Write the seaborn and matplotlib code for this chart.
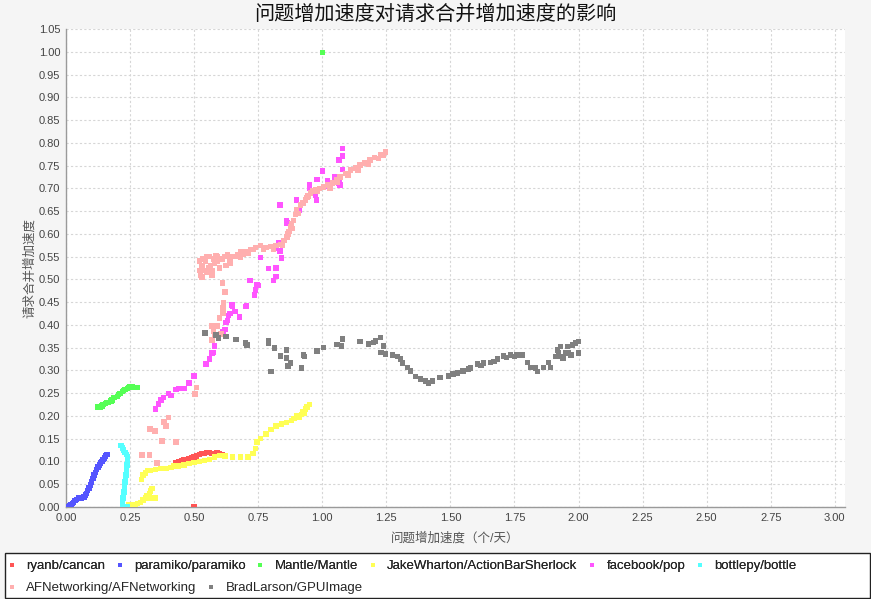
import pandas as pd
import numpy as np
import matplotlib
matplotlib.use('Agg')
import matplotlib.pyplot as plt
from matplotlib.lines import Line2D
from matplotlib.patches import Rectangle
import seaborn as sns

# series
repos = ['ryanb/cancan', 'paramiko/paramiko', 'Mantle/Mantle', 'JakeWharton/ActionBarSherlock',
         'facebook/pop', 'bottlepy/bottle', 'AFNetworking/AFNetworking', 'BradLarson/GPUImage']
colors = ['#ff5555', '#5555ff', '#55ff55', '#ffff55', '#ff55ff', '#55ffff', '#ffafaf', '#808080']

cancan_x = [0.43, 0.44, 0.45, 0.46, 0.47, 0.48, 0.49, 0.50, 0.51, 0.52, 0.53, 0.54, 0.55, 0.56,
            0.57, 0.58, 0.59, 0.60, 0.61, 0.50]
cancan_y = [0.098, 0.100, 0.102, 0.105, 0.105, 0.107, 0.108, 0.110, 0.112, 0.115, 0.117, 0.118,
            0.120, 0.120, 0.118, 0.117, 0.120, 0.118, 0.116, 0.0]

paramiko_x = [0.01, 0.015, 0.02, 0.025, 0.03, 0.035, 0.04, 0.05, 0.06, 0.07, 0.075, 0.08, 0.085,
              0.09, 0.095, 0.10, 0.105, 0.11, 0.115, 0.12, 0.125, 0.13, 0.135, 0.14, 0.145, 0.15,
              0.155, 0.16]
paramiko_y = [0.0, 0.003, 0.005, 0.008, 0.010, 0.014, 0.017, 0.020, 0.020, 0.022, 0.026, 0.030,
              0.036, 0.042, 0.048, 0.055, 0.062, 0.070, 0.076, 0.082, 0.088, 0.092, 0.097, 0.100,
              0.104, 0.108, 0.112, 0.115]

mantle_x = [0.125, 0.135, 0.14, 0.145, 0.155, 0.16, 0.165, 0.175, 0.18, 0.185, 0.19, 0.20, 0.205,
            0.21, 0.22, 0.225, 0.23, 0.24, 0.245, 0.25, 0.26, 0.265, 0.27, 0.28, 1.0]
mantle_y = [0.220, 0.220, 0.222, 0.225, 0.228, 0.230, 0.230, 0.233, 0.235, 0.240, 0.240, 0.243,
            0.247, 0.250, 0.254, 0.256, 0.258, 0.260, 0.262, 0.265, 0.265, 0.263, 0.262, 0.262, 0.998]

abs_x = [0.245, 0.26, 0.27, 0.28, 0.29, 0.30, 0.31, 0.315, 0.32, 0.325, 0.33, 0.335, 0.34, 0.35,
         0.295, 0.30, 0.31, 0.32, 0.33, 0.35, 0.37, 0.39, 0.41, 0.42, 0.44, 0.46, 0.48, 0.50,
         0.52, 0.54, 0.56, 0.58, 0.60, 0.62, 0.65, 0.68, 0.71, 0.73, 0.74, 0.745, 0.76, 0.78,
         0.80, 0.82, 0.84, 0.86, 0.88, 0.89, 0.90, 0.91, 0.92, 0.925, 0.93, 0.935, 0.94, 0.95]
abs_y = [0.005, 0.005, 0.005, 0.008, 0.010, 0.015, 0.020, 0.025, 0.020, 0.030, 0.035, 0.040,
         0.020, 0.020, 0.060, 0.070, 0.075, 0.080, 0.080, 0.083, 0.085, 0.085, 0.087, 0.090,
         0.090, 0.092, 0.095, 0.098, 0.100, 0.102, 0.105, 0.110, 0.113, 0.112, 0.110, 0.110,
         0.110, 0.118, 0.128, 0.143, 0.150, 0.160, 0.170, 0.178, 0.182, 0.186, 0.190, 0.195,
         0.200, 0.198, 0.203, 0.210, 0.205, 0.215, 0.220, 0.225]

pop_x = [0.35, 0.36, 0.37, 0.38, 0.40, 0.41, 0.43, 0.44, 0.46, 0.48, 0.50, 0.547, 0.56, 0.57,
         0.575, 0.58, 0.595, 0.613, 0.62, 0.625, 0.63, 0.635, 0.64, 0.648, 0.65, 0.66, 0.676,
         0.703, 0.705, 0.715, 0.72, 0.735, 0.74, 0.746, 0.75, 0.76, 0.79, 0.81, 0.815, 0.82,
         0.82, 0.83, 0.835, 0.835, 0.84, 0.86, 0.863, 0.90, 0.91, 0.95, 0.95, 0.973, 0.977,
         0.98, 1.00, 1.02, 1.025, 1.047, 1.066, 1.07, 1.066, 1.08, 1.08, 1.08]
pop_y = [0.215, 0.226, 0.235, 0.240, 0.250, 0.245, 0.258, 0.260, 0.260, 0.272, 0.288, 0.314,
         0.325, 0.338, 0.340, 0.354, 0.373, 0.385, 0.390, 0.405, 0.410, 0.420, 0.425, 0.444,
         0.440, 0.430, 0.417, 0.440, 0.442, 0.497, 0.497, 0.466, 0.477, 0.488, 0.487, 0.548,
         0.524, 0.497, 0.569, 0.525, 0.507, 0.580, 0.562, 0.663, 0.547, 0.630, 0.624, 0.674,
         0.652, 0.707, 0.700, 0.685, 0.674, 0.720, 0.738, 0.716, 0.705, 0.725, 0.712, 0.707,
         0.762, 0.771, 0.788, 0.742]

bottle_x = [0.215, 0.22, 0.225, 0.23, 0.235, 0.24, 0.24, 0.238, 0.236, 0.235, 0.234, 0.232,
            0.23, 0.229, 0.228, 0.226, 0.224, 0.222, 0.22, 0.22, 0.22, 0.23, 0.24]
bottle_y = [0.135, 0.130, 0.125, 0.120, 0.115, 0.110, 0.100, 0.092, 0.085, 0.078, 0.070, 0.063,
            0.055, 0.048, 0.040, 0.033, 0.026, 0.020, 0.013, 0.008, 0.003, 0.0, 0.0]

afn_x = [0.297, 0.325, 0.355, 0.328, 0.348, 0.375, 0.43, 0.383, 0.39, 0.40, 0.504, 0.51,
         0.567, 0.57, 0.575, 0.58, 0.59, 0.60, 0.605, 0.61, 0.613, 0.615, 0.615, 0.62, 0.61,
         0.52, 0.52, 0.525, 0.53, 0.535, 0.54, 0.545, 0.55, 0.555, 0.56, 0.565, 0.57, 0.575,
         0.58, 0.585, 0.59, 0.60, 0.61, 0.62, 0.625, 0.63, 0.64, 0.65, 0.66, 0.67, 0.68, 0.69,
         0.70, 0.71, 0.72, 0.74, 0.758, 0.78, 0.797, 0.82, 0.836, 0.85, 0.863, 0.87, 0.875,
         0.88, 0.887, 0.895, 0.90, 0.914, 0.925, 0.934, 0.945, 0.953, 0.963, 0.973, 0.99,
         1.004, 1.02, 1.039, 1.055, 1.07, 1.09, 1.11, 1.13, 1.148, 1.165, 1.187, 1.205, 1.227,
         1.246,
         0.53, 0.55, 0.57, 0.59, 0.64, 0.68, 0.73, 0.77, 0.81, 0.845, 0.866, 0.883, 0.905,
         0.94, 0.98, 1.03, 1.06, 1.10, 1.14, 1.18, 1.22, 1.24]
afn_y = [0.114, 0.114, 0.097, 0.171, 0.167, 0.145, 0.143, 0.187, 0.178, 0.197, 0.248, 0.262,
         0.398, 0.367, 0.385, 0.377, 0.398, 0.415, 0.380, 0.437, 0.426, 0.448, 0.435, 0.472,
         0.492, 0.520, 0.540, 0.510, 0.530, 0.545, 0.520, 0.540, 0.550, 0.525, 0.550, 0.530,
         0.520, 0.545, 0.535, 0.552, 0.550, 0.525, 0.545, 0.550, 0.530, 0.555, 0.545, 0.550,
         0.550, 0.555, 0.560, 0.555, 0.560, 0.558, 0.565, 0.570, 0.575, 0.570, 0.572, 0.575,
         0.577, 0.585, 0.593, 0.605, 0.615, 0.622, 0.630, 0.642, 0.652, 0.663, 0.668, 0.674,
         0.683, 0.690, 0.694, 0.698, 0.700, 0.703, 0.707, 0.712, 0.718, 0.725, 0.733, 0.740,
         0.745, 0.751, 0.756, 0.762, 0.768, 0.773, 0.780,
         0.505, 0.515, 0.510, 0.540, 0.535, 0.548, 0.566, 0.565, 0.565, 0.575, 0.600, 0.612,
         0.645, 0.680, 0.694, 0.700, 0.713, 0.728, 0.740, 0.752, 0.765, 0.772]

gpu_x = [0.543, 0.586, 0.594, 0.625, 0.664, 0.70, 0.707, 0.79, 0.79, 0.80, 0.813, 0.836, 0.86,
         0.86, 0.867, 0.875, 0.918, 0.926, 0.93, 0.98, 1.004, 1.058, 1.074, 1.08, 1.148, 1.18,
         1.20, 1.207, 1.227, 1.238, 1.23, 1.246, 1.273, 1.293, 1.305, 1.312, 1.332, 1.344,
         1.363, 1.383, 1.402, 1.414, 1.43, 1.46, 1.492, 1.527, 1.55, 1.578, 1.605, 1.63, 1.656,
         1.684, 1.707, 1.734, 1.76, 1.78, 1.80, 1.812, 1.832, 1.84, 1.863, 1.883, 1.89, 1.91,
         1.918, 1.922, 1.93, 1.93, 1.94, 1.95, 1.957, 1.96, 1.97, 1.977, 1.988, 2.0, 2.0,
         1.51, 1.57, 1.62, 1.67, 1.72, 1.75]
gpu_y = [0.382, 0.378, 0.371, 0.374, 0.368, 0.360, 0.356, 0.365, 0.360, 0.297, 0.349, 0.332,
         0.345, 0.327, 0.310, 0.316, 0.305, 0.334, 0.330, 0.343, 0.350, 0.357, 0.354, 0.369,
         0.363, 0.358, 0.362, 0.365, 0.373, 0.354, 0.340, 0.336, 0.334, 0.330, 0.325, 0.316,
         0.307, 0.299, 0.286, 0.281, 0.277, 0.272, 0.277, 0.285, 0.288, 0.294, 0.299, 0.305,
         0.314, 0.316, 0.318, 0.325, 0.332, 0.334, 0.334, 0.334, 0.318, 0.307, 0.305, 0.297,
         0.307, 0.318, 0.307, 0.330, 0.345, 0.340, 0.352, 0.330, 0.327, 0.338, 0.352, 0.340,
         0.334, 0.356, 0.360, 0.363, 0.338,
         0.292, 0.303, 0.311, 0.320, 0.328, 0.331]

x_ticks = [0.0, 0.25, 0.5, 0.75, 1.0, 1.25, 1.5, 1.75, 2.0, 2.25, 2.5, 2.75, 3.0]
y_ticks = [round(0.05 * i, 2) for i in range(22)]

title = '问题增加速度对请求合并增加速度的影响'
x_label = '问题增加速度（个/天）'
y_label = '请求合并增加速度'

# build long table
series = [(cancan_x, cancan_y), (paramiko_x, paramiko_y), (mantle_x, mantle_y), (abs_x, abs_y),
          (pop_x, pop_y), (bottle_x, bottle_y), (afn_x, afn_y), (gpu_x, gpu_y)]
frames = []
for name, (xs, ys) in zip(repos, series):
    frames.append(pd.DataFrame({'x': xs, 'y': ys, 'repo': name}))
df = pd.concat(frames, ignore_index=True)

sns.set_style('white')
plt.rcParams['font.family'] = ['Liberation Sans', 'Noto Sans CJK SC', 'DejaVu Sans']

W, H = 871, 599
fig = plt.figure(figsize=(W / 100, H / 100), dpi=100, facecolor='#f5f5f5')
ax = fig.add_axes([66 / W, 1 - 507 / H, (845 - 66) / W, (507 - 29) / H])
ax.set_facecolor('white')

sns.scatterplot(data=df, x='x', y='y', hue='repo', hue_order=repos,
                palette=dict(zip(repos, colors)), marker='s', s=15, linewidth=0,
                legend=False, ax=ax, zorder=3)

ax.set_xlim(0, 3.04)
ax.set_ylim(0, 1.05)
ax.set_xticks(x_ticks)
ax.set_yticks(y_ticks)
ax.set_xticklabels([f'{v:.2f}' for v in x_ticks])
ax.set_yticklabels([f'{v:.2f}' for v in y_ticks])
ax.tick_params(labelsize=8, colors='#444444', length=2, width=0.8, direction='out', pad=2)
ax.grid(True, color='#d6d6d6', linestyle=(0, (2, 2)), linewidth=0.8)
ax.set_axisbelow(True)
for side in ['top', 'right']:
    ax.spines[side].set_visible(False)
for side in ['left', 'bottom']:
    ax.spines[side].set_color('#9a9a9a')
    ax.spines[side].set_linewidth(1)

ax.set_xlabel(x_label, fontsize=9, color='#555555', labelpad=7)
ax.set_ylabel(y_label, fontsize=9, color='#555555', labelpad=2)
fig.suptitle(title, x=0.5, y=1 - 14 / H, va='center', fontsize=14.5,
             family=['Noto Sans CJK SC', 'DejaVu Sans'], color='#111111')

# legend box at the bottom
fig.patches.append(Rectangle((5 / W, 1 - 598 / H), 865 / W, 45 / H, transform=fig.transFigure,
                             facecolor='white', edgecolor='#222222', linewidth=1, zorder=0))

handles = [Line2D([], [], marker='s', linestyle='', markersize=2.5, color=c,
                  markeredgewidth=0) for c in colors]
leg_kw = dict(frameon=False, fontsize=9.5, handlelength=0.4, handletextpad=0.9,
              columnspacing=0.9, borderpad=0, borderaxespad=0, loc='upper left')
leg1 = fig.legend(handles[:6], repos[:6], ncol=6, bbox_to_anchor=(9 / W, 1 - 560 / H), **leg_kw)
fig.add_artist(leg1)
leg2 = fig.legend(handles[6:], repos[6:], ncol=2, bbox_to_anchor=(9 / W, 1 - 582 / H), **leg_kw)

fig.savefig('out.png', dpi=100, facecolor=fig.get_facecolor())
